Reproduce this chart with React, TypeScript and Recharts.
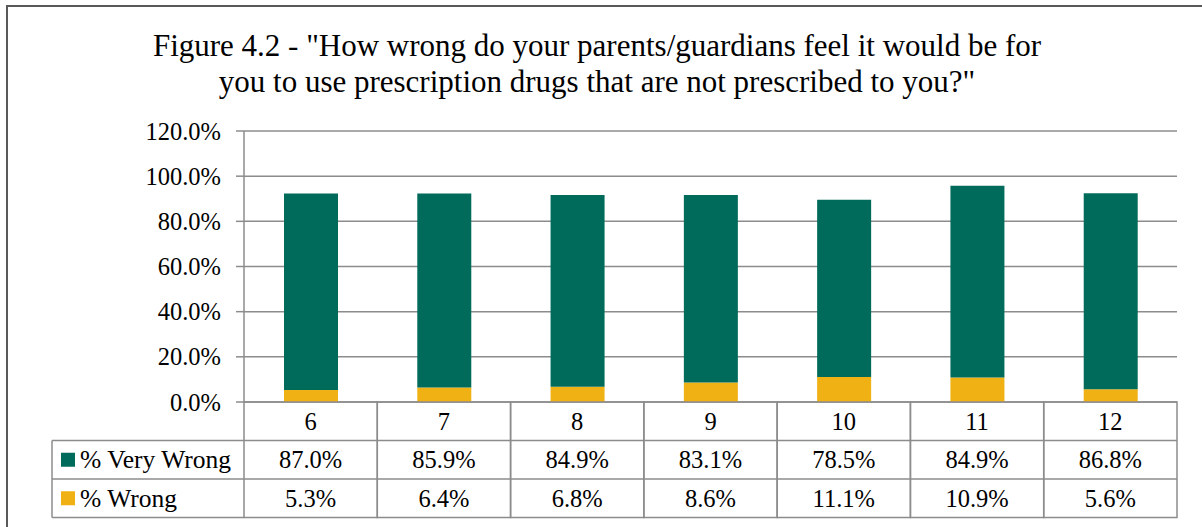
import React from "react";
import { BarChart, Bar, XAxis, YAxis, CartesianGrid } from "recharts";

const grades = ["6", "7", "8", "9", "10", "11", "12"];
const veryWrong = [87.0, 85.9, 84.9, 83.1, 78.5, 84.9, 86.8];
const wrong = [5.3, 6.4, 6.8, 8.6, 11.1, 10.9, 5.6];
const yTicks = [0, 20, 40, 60, 80, 100, 120];
const seriesNames = ["% Very Wrong", "% Wrong"];

const GREEN = "#006B5A";
const GOLD = "#F0B114";
const LINE = "#8C8C8C";
const FONT = "'Liberation Serif', 'Times New Roman', serif";
const txtStyle = { fontFamily: FONT, fontSize: 24.5, fill: "#000" };

const W = 1202;
const H = 527;
const PLOT_LEFT = 244;
const PLOT_RIGHT = 1177;
const LEGEND_LEFT = 52;
const ROW_H = 38.5;

const data = grades.map((g, i) => ({
  grade: g,
  wrong: wrong[i],
  veryWrong: veryWrong[i],
}));

const fmt = (v: number) => v.toFixed(1) + "%";

function YTick(props: any) {
  const { x, y, payload } = props;
  return (
    <text x={x} y={y} textAnchor="end" dominantBaseline="central" style={txtStyle}>
      {fmt(payload.value)}
    </text>
  );
}

function TableTick(props: any) {
  const { x, y, payload, index } = props;
  const colW = (PLOT_RIGHT - PLOT_LEFT) / grades.length;
  const left = x - colW / 2;
  const right = x + colW / 2;
  const rows = [payload.value, fmt(veryWrong[index]), fmt(wrong[index])];
  return (
    <g>
      <rect x={left} y={y} width={colW} height={ROW_H * 3} fill="none" stroke={LINE} strokeWidth={1.5} />
      <line x1={left} x2={right} y1={y + ROW_H} y2={y + ROW_H} stroke={LINE} strokeWidth={1.5} />
      <line x1={left} x2={right} y1={y + ROW_H * 2} y2={y + ROW_H * 2} stroke={LINE} strokeWidth={1.5} />
      {rows.map((t, r) => (
        <text
          key={r}
          x={x}
          y={y + ROW_H * r + ROW_H / 2}
          textAnchor="middle"
          dominantBaseline="central"
          style={txtStyle}
        >
          {t}
        </text>
      ))}
      {index === 0 && (
        <g>
          <line x1={LEGEND_LEFT} x2={left} y1={y + ROW_H} y2={y + ROW_H} stroke={LINE} strokeWidth={1.5} />
          <line x1={LEGEND_LEFT} x2={left} y1={y + ROW_H * 2} y2={y + ROW_H * 2} stroke={LINE} strokeWidth={1.5} />
          <line x1={LEGEND_LEFT} x2={left} y1={y + ROW_H * 3} y2={y + ROW_H * 3} stroke={LINE} strokeWidth={1.5} />
          <line x1={LEGEND_LEFT} x2={LEGEND_LEFT} y1={y + ROW_H} y2={y + ROW_H * 3} stroke={LINE} strokeWidth={1.5} />
          {seriesNames.map((n, r) => (
            <g key={n}>
              <rect
                x={LEGEND_LEFT + 9}
                y={y + ROW_H * (r + 1) + ROW_H / 2 - 7}
                width={14}
                height={14}
                fill={r === 0 ? GREEN : GOLD}
              />
              <text
                x={LEGEND_LEFT + 28}
                y={y + ROW_H * (r + 1) + ROW_H / 2}
                dominantBaseline="central"
                style={{ ...txtStyle, fontSize: 25.5 }}
              >
                {n}
              </text>
            </g>
          ))}
        </g>
      )}
    </g>
  );
}

export default function App() {
  return (
    <div
      style={{
        position: "absolute",
        left: 0,
        top: 0,
        width: W,
        height: H,
        overflow: "hidden",
        background: "#fff",
      }}
    >
      <div
        style={{
          position: "absolute",
          left: 6,
          top: 5,
          width: W + 20,
          height: H + 20,
          borderLeft: "2px solid #595959",
          borderTop: "2px solid #595959",
        }}
      />
      <div
        style={{
          position: "absolute",
          left: 0,
          top: 28,
          width: 1194,
          textAlign: "center",
          fontFamily: FONT,
          fontSize: 31,
          lineHeight: "36px",
          color: "#000",
        }}
      >
        Figure 4.2 - "How wrong do your parents/guardians feel it would be for
        <br />
        you to use prescription drugs that are not prescribed to you?"
      </div>
      <div style={{ position: "absolute", left: 0, top: 0 }}>
        <BarChart
          width={W}
          height={H}
          data={data}
          margin={{ top: 131, right: W - PLOT_RIGHT, left: 0, bottom: 0 }}
        >
          <CartesianGrid vertical={false} stroke={LINE} strokeWidth={1.5} />
          <YAxis
            width={PLOT_LEFT}
            domain={[0, 120]}
            ticks={yTicks}
            interval={0}
            tickSize={8}
            tickMargin={15}
            axisLine={{ stroke: LINE, strokeWidth: 1.5 }}
            tickLine={{ stroke: LINE, strokeWidth: 1.5 }}
            tick={<YTick />}
          />
          <XAxis
            dataKey="grade"
            height={H - 402}
            interval={0}
            tickSize={0}
            tickMargin={0}
            axisLine={false}
            tickLine={false}
            tick={<TableTick />}
          />
          <Bar dataKey="wrong" stackId="a" fill={GOLD} barSize={54} isAnimationActive={false} />
          <Bar dataKey="veryWrong" stackId="a" fill={GREEN} barSize={54} isAnimationActive={false} />
        </BarChart>
      </div>
    </div>
  );
}
